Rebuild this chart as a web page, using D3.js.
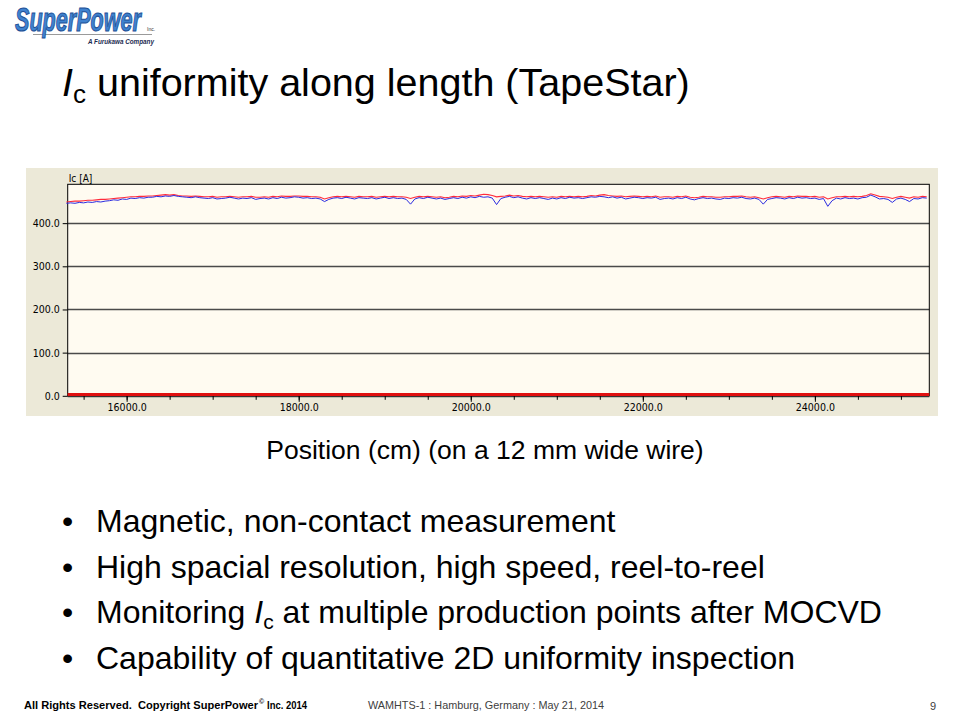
<!DOCTYPE html>
<html><head><meta charset="utf-8">
<script src="https://cdn.jsdelivr.net/npm/d3@7"></script>
<style>
html,body{margin:0;padding:0;background:#fff;}
svg{display:block;font-family:"Liberation Sans",Arial,sans-serif;}
</style></head>
<body>
<svg id="c" width="960" height="720"></svg>
<script>
// ---- data ----
const positions = [
15300,15350,15400,15450,15500,15550,15600,15650,15700,15750,
15800,15850,15900,15950,16000,16050,16100,16150,16200,16250,
16300,16350,16400,16450,16500,16550,16600,16650,16700,16750,
16800,16850,16900,16950,17000,17050,17100,17150,17200,17250,
17300,17350,17400,17450,17500,17550,17600,17650,17700,17750,
17800,17850,17900,17950,18000,18050,18100,18150,18200,18250,
18300,18350,18400,18450,18500,18550,18600,18650,18700,18750,
18800,18850,18900,18950,19000,19050,19100,19150,19200,19250,
19300,19350,19400,19450,19500,19550,19600,19650,19700,19750,
19800,19850,19900,19950,20000,20050,20100,20150,20200,20250,
20300,20350,20400,20450,20500,20550,20600,20650,20700,20750,
20800,20850,20900,20950,21000,21050,21100,21150,21200,21250,
21300,21350,21400,21450,21500,21550,21600,21650,21700,21750,
21800,21850,21900,21950,22000,22050,22100,22150,22200,22250,
22300,22350,22400,22450,22500,22550,22600,22650,22700,22750,
22800,22850,22900,22950,23000,23050,23100,23150,23200,23250,
23300,23350,23400,23450,23500,23550,23600,23650,23700,23750,
23800,23850,23900,23950,24000,24050,24100,24150,24200,24250,
24300,24350,24400,24450,24500,24550,24600,24650,24700,24750,
24800,24850,24900,24950,25000,25050,25100,25150,25200,25250,
25300];
const icBlue = [
446,447,446,448,447,449,448,450,449,451,
452,454,453,456,455,458,457,459,458,460,
460,462,461,463,462,464,462,461,460,459,
461,459,458,457,459,456,457,458,460,458,
456,458,457,459,455,457,458,456,459,457,
460,458,459,461,460,458,459,457,458,456,
450,455,458,459,457,460,458,456,459,458,
457,459,456,458,460,457,459,457,458,455,
444,456,459,457,460,458,456,458,455,457,
459,457,460,458,461,459,462,460,461,458,
443,457,460,462,459,461,458,456,459,457,
459,457,455,458,456,459,457,460,458,459,
457,459,461,460,462,461,459,461,458,460,
456,458,460,459,457,459,458,460,455,457,
458,456,459,457,460,456,454,457,459,457,
458,456,455,458,457,459,458,460,457,456,
458,455,444,455,457,459,458,456,459,457,
460,458,459,457,458,455,457,439,452,458,
456,459,457,458,456,459,460,465,461,456,
457,455,448,456,458,455,450,457,456,459,
458];
const icRed = [
449,450,451,451,452,453,453,454,455,455,
456,457,458,459,460,461,461,462,462,463,
463,464,465,466,465,466,464,463,463,462,
463,462,461,461,462,460,461,461,462,461,
460,461,461,462,460,460,461,460,462,461,
463,462,462,463,463,462,462,461,461,460,
456,459,461,462,461,462,461,460,462,461,
461,462,460,461,462,461,462,461,461,460,
457,460,462,461,462,461,460,461,459,460,
462,461,463,462,464,463,465,467,466,464,
461,462,463,465,463,464,462,461,462,461,
462,461,460,461,460,462,461,462,461,462,
461,462,464,463,465,466,464,463,462,463,
461,462,463,462,461,462,461,463,460,461,
461,460,462,461,463,460,459,460,462,461,
461,460,460,461,461,462,462,463,461,460,
461,459,456,459,461,462,461,460,462,461,
463,462,462,461,462,460,461,456,459,461,
461,462,461,462,461,462,464,468,465,462,
461,460,457,460,462,460,458,461,460,462,
461];
const baselinePositions = [15315, 25330];
const baselineValues = [0, 0];
const yTicks = [0,100,200,300,400];
const xMinorTicks = [15500,16000,16500,17000,17500,18000,18500,19000,19500,20000,20500,21000,21500,22000,22500,23000,23500,24000,24500,25000];
const xMajorTicks = [16000,18000,20000,22000,24000];
const bullets = ["Magnetic, non-contact measurement","High spacial resolution, high speed, reel-to-reel",null,"Capability of quantitative 2D uniformity inspection"];

const svg = d3.select("#c");
svg.append("rect").attr("width",960).attr("height",720).attr("fill","#fff");

// ---- logo ----
const logo = svg.append("g");
logo.append("line").attr("x1",33).attr("x2",152).attr("y1",34.5).attr("y2",34.5).attr("stroke","#9a9a9a").attr("stroke-width",1);
logo.append("text").attr("transform","translate(15,31) scale(1,1.5)").attr("font-size",21.6)
  .attr("font-weight","bold").attr("font-style","italic")
  .attr("fill","#3f82cf").attr("stroke","#1d4f96").attr("stroke-width",0.7)
  .text("SuperPower");
logo.append("text").attr("x",147).attr("y",31).attr("font-size",5).attr("fill","#333").text("Inc.");
logo.append("text").attr("x",88).attr("y",44).attr("font-size",6.3).attr("font-weight","bold").attr("font-style","italic")
  .attr("fill","#1a2a50").text("A Furukawa Company");

// ---- title ----
const title = svg.append("text").attr("x",62).attr("y",96).attr("font-size",39.5).attr("fill","#000");
title.append("tspan").attr("font-style","italic").text("I");
title.append("tspan").attr("font-size",26).attr("dy",7).text("c");
title.append("tspan").attr("dy",-7).text(" uniformity along length (TapeStar)");

// ---- chart frame ----
const frame = {x:26,y:168,w:912,h:248};
svg.append("rect").attr("x",frame.x).attr("y",frame.y).attr("width",frame.w).attr("height",frame.h).attr("fill","#ECE9D8");
const P = {l:67.7,r:929.3,t:184.3,b:395.8};
const x = d3.scaleLinear().domain([15315,25330]).range([P.l,P.r]);
const y = d3.scaleLinear().domain([0,490]).range([P.b,P.t]);
svg.append("rect").attr("x",P.l).attr("y",P.t).attr("width",P.r-P.l).attr("height",P.b-P.t).attr("fill","#FFFBF1");

// gridlines
svg.append("g").selectAll("line").data(yTicks).join("line")
  .attr("x1",P.l).attr("x2",P.r).attr("y1",d=>Math.round(y(d))+0.5).attr("y2",d=>Math.round(y(d))+0.5)
  .attr("stroke","#4a4a4a").attr("stroke-width",1.5);

const axisFont = "'DejaVu Sans Condensed','Liberation Sans',sans-serif";
// y axis
const yAxis = svg.append("g").attr("transform",`translate(${P.l},0)`)
  .call(d3.axisLeft(y).tickValues(yTicks).tickFormat(d3.format(".1f")).tickSize(5).tickPadding(3));
yAxis.select(".domain").remove();
yAxis.selectAll("text").attr("font-size",10.5).attr("font-family",axisFont).attr("fill","#000");
yAxis.selectAll("line").attr("stroke","#000");

// x axis minor & major
const xAxis = svg.append("g").attr("transform",`translate(0,${P.b})`)
  .call(d3.axisBottom(x).tickValues(xMinorTicks).tickSize(4).tickFormat(""));
xAxis.select(".domain").remove();
xAxis.selectAll("line").attr("stroke","#000");
const xAxis2 = svg.append("g").attr("transform",`translate(0,${P.b})`)
  .call(d3.axisBottom(x).tickValues(xMajorTicks).tickSize(6).tickPadding(2).tickFormat(d3.format(".1f")));
xAxis2.select(".domain").remove();
xAxis2.selectAll("line").attr("stroke","#000");
xAxis2.selectAll("text").attr("font-size",10.5).attr("font-family",axisFont).attr("fill","#000");

// plot border
svg.append("rect").attr("x",P.l).attr("y",P.t).attr("width",P.r-P.l).attr("height",P.b-P.t)
  .attr("fill","none").attr("stroke","#000").attr("stroke-width",1);

svg.append("text").attr("x",P.l+1).attr("y",P.t-2).attr("font-size",10).attr("font-family",axisFont).text("Ic [A]");

// data lines
const line = d3.line().x(d=>x(d[0])).y(d=>y(d[1]));
svg.append("path").datum(positions.map((p,i)=>[p,icRed[i]])).attr("d",line)
  .attr("fill","none").attr("stroke","#ff2a3a").attr("stroke-width",1.1);
svg.append("path").datum(positions.map((p,i)=>[p,icBlue[i]])).attr("d",line)
  .attr("fill","none").attr("stroke","#2a2ae0").attr("stroke-width",1);
svg.append("path").datum(baselinePositions.map((p,i)=>[p,baselineValues[i]])).attr("d",line)
  .attr("transform","translate(0,-1.3)")
  .attr("fill","none").attr("stroke","#e01010").attr("stroke-width",3.2);

// ---- subtitle ----
svg.append("text").attr("x",485).attr("y",459).attr("text-anchor","middle").attr("font-size",26.5).attr("fill","#000")
  .text("Position (cm) (on a 12 mm wide wire)");

// ---- bullets ----
const by = [532,578,623,669];
bullets.forEach((b,i)=>{
  svg.append("text").attr("x",62).attr("y",by[i]).attr("font-size",32).text("•");
  const t = svg.append("text").attr("x",96).attr("y",by[i]).attr("font-size",32).attr("fill","#000");
  if(b!==null){ t.text(b); }
  else {
    t.append("tspan").text("Monitoring ");
    t.append("tspan").attr("font-style","italic").text("I");
    t.append("tspan").attr("font-size",21).attr("dy",6).text("c");
    t.append("tspan").attr("dy",-6).text(" at multiple production points after MOCVD");
  }
});

// ---- footer ----
const footFont = "'Liberation Sans Narrow','Liberation Sans',sans-serif";
svg.append("text").attr("x",24).attr("y",709).attr("font-size",11).attr("font-weight","bold")
  .attr("font-family",footFont).attr("textLength",234).attr("lengthAdjust","spacingAndGlyphs")
  .text("All Rights Reserved.\u00A0 Copyright SuperPower");
svg.append("text").attr("x",259).attr("y",704).attr("font-size",7).attr("font-weight","bold")
  .attr("font-family",footFont).text("©");
svg.append("text").attr("x",267).attr("y",709).attr("font-size",11).attr("font-weight","bold")
  .attr("font-family",footFont).attr("textLength",40).attr("lengthAdjust","spacingAndGlyphs")
  .text("Inc. 2014");
svg.append("text").attr("x",368).attr("y",709).attr("font-size",11).attr("fill","#404040")
  .attr("font-family",footFont).attr("textLength",236).attr("lengthAdjust","spacingAndGlyphs")
  .text("WAMHTS-1 : Hamburg, Germany : May 21, 2014");
svg.append("text").attr("x",930).attr("y",710).attr("font-size",11).attr("fill","#404040").text("9");
</script>
</body></html>
